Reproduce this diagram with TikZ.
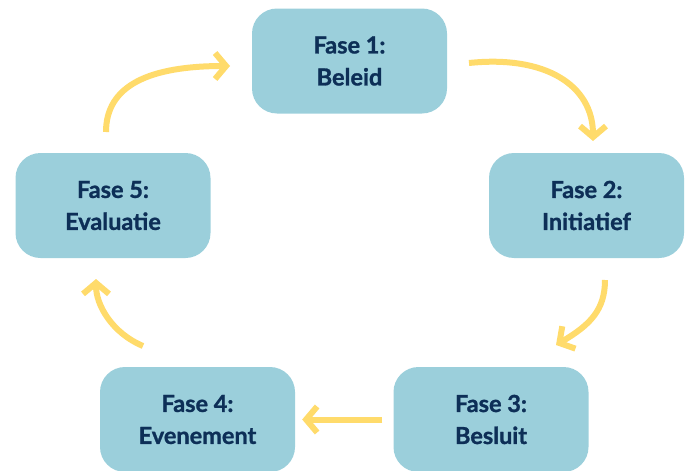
\documentclass[tikz,border=0pt]{standalone}
\usepackage{fontspec}
\setmainfont{Lato}[BoldFeatures={FakeBold=1.2}]
\usetikzlibrary{arrows.meta}
\definecolor{boxfill}{HTML}{9BCFDB}
\definecolor{navy}{HTML}{0D2F57}
\definecolor{arrowyel}{HTML}{FFDB6B}
\begin{document}
\begin{tikzpicture}[x=1pt,y=-1pt,
  phase/.style={fill=boxfill, rounded corners=25pt, minimum width=195pt, minimum height=105pt,
    text=navy, font=\fontsize{23.5}{32}\selectfont\bfseries, align=center, inner sep=0pt},
  flow/.style={draw=arrowyel, line width=6pt, -{Straight Barb[length=11pt,width=26pt]}}]
\useasboundingbox (0,0) rectangle (686,471);
\node[phase] (n1) at (349.5,61) {Fase 1:\\Beleid};
\node[phase] (n2) at (586.5,205.5) {Fase 2:\\Initiatief};
\node[phase] (n3) at (491,419.5) {Fase 3:\\Besluit};
\node[phase] (n4) at (197.5,419.5) {Fase 4:\\Evenement};
\node[phase] (n5) at (113,205.5) {Fase 5:\\Evaluatie};
\coordinate (a1s) at (106,132);
\coordinate (a1e) at (230,66);
\coordinate (a2s) at (469,63);
\coordinate (a2e) at (593,141);
\coordinate (a3s) at (605,280);
\coordinate (a3e) at (556,345);
\coordinate (a4s) at (n3.west);
\coordinate (a4e) at (n4.east);
\coordinate (a5s) at (143,346);
\coordinate (a5e) at (96,279);
\draw[flow] (a1s) .. controls (106,85) and (150,66) .. (a1e);
\draw[flow] (a2s) .. controls (545,55) and (593,85) .. (a2e);
\draw[flow] (a3s) .. controls (605,310) and (590,325) .. (a3e);
\draw[flow, shorten <=11pt, shorten >=7pt] (a4s) -- (a4e);
\draw[flow] (a5s) .. controls (112,333) and (96,305) .. (a5e);
\end{tikzpicture}
\end{document}
